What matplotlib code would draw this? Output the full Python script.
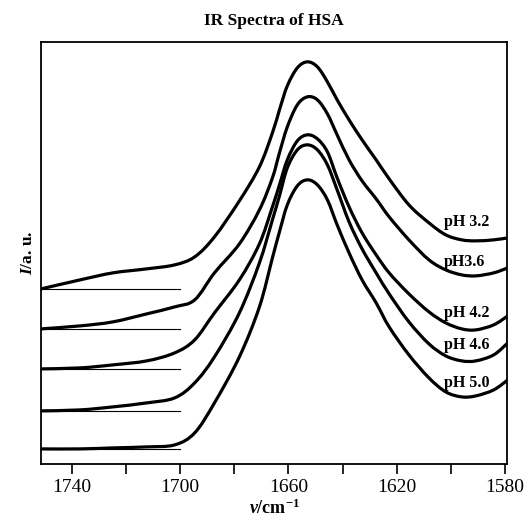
import numpy as np
import matplotlib.pyplot as plt
from matplotlib.path import Path
from matplotlib.patches import PathPatch

plt.rcParams['font.family'] = 'Liberation Serif'
plt.rcParams['mathtext.fontset'] = 'custom'
plt.rcParams['mathtext.rm'] = 'Liberation Serif:bold'
plt.rcParams['mathtext.it'] = 'Liberation Serif:italic:bold'
plt.rcParams['mathtext.bf'] = 'Liberation Serif:bold'

# ---- Data (wavenumber in cm^-1, intensity in a.u. incl. vertical offset) ----
wavenumber = [1751.3, 1736.9, 1724.8, 1712.3, 1702.0, 1694.6, 1687.3, 1678.1,
              1670.7, 1665.9, 1663.3, 1660.4, 1656.7, 1653.0, 1649.3, 1645.6,
              1642.0, 1637.6, 1632.8, 1627.6, 1622.8, 1615.5, 1608.1, 1601.9,
              1596.0, 1590.8, 1584.2, 1579.0]

ph32 = [1.75, 1.84, 1.91, 1.95, 1.99, 2.07, 2.27, 2.63, 2.97, 3.31, 3.54, 3.78,
        3.96, 4.02, 3.97, 3.82, 3.64, 3.44, 3.24, 3.04, 2.85, 2.59, 2.41, 2.29,
        2.24, 2.23, 2.24, 2.26]
ph36 = [1.35, 1.38, 1.42, 1.50, 1.57, 1.64, 1.91, 2.20, 2.54, 2.86, 3.11, 3.37,
        3.59, 3.67, 3.64, 3.50, 3.29, 3.04, 2.83, 2.65, 2.47, 2.24, 2.04, 1.94,
        1.89, 1.88, 1.91, 1.96]
ph42 = [0.95, 0.96, 0.99, 1.03, 1.11, 1.24, 1.51, 1.84, 2.20, 2.57, 2.79, 3.04,
        3.23, 3.29, 3.25, 3.12, 2.86, 2.57, 2.31, 2.09, 1.91, 1.70, 1.52, 1.41,
        1.35, 1.34, 1.39, 1.48]
ph46 = [0.53, 0.54, 0.57, 0.61, 0.66, 0.81, 1.07, 1.51, 2.01, 2.44, 2.68, 2.96,
        3.14, 3.19, 3.14, 2.99, 2.74, 2.42, 2.15, 1.91, 1.70, 1.42, 1.20, 1.08,
        1.03, 1.03, 1.09, 1.21]
ph50 = [0.15, 0.15, 0.16, 0.17, 0.19, 0.31, 0.61, 1.07, 1.57, 2.06, 2.32, 2.59,
        2.78, 2.84, 2.79, 2.64, 2.39, 2.11, 1.84, 1.61, 1.37, 1.09, 0.86, 0.72,
        0.67, 0.68, 0.74, 0.84]

spectra = [ph32, ph36, ph42, ph46, ph50]
baselines = [1.75, 1.35, 0.95, 0.53, 0.15]
labels = ['pH 3.2', 'pH3.6', 'pH 4.2', 'pH 4.6', 'pH 5.0']
label_y = [2.42, 2.02, 1.51, 1.19, 0.81]

xlim = (1751.3, 1579.3)


def smooth_path(x, y):
    # Catmull-Rom through the points, written as cubic Bezier segments
    p = np.column_stack([x, y]).astype(float)
    verts = [p[0]]
    codes = [Path.MOVETO]
    for i in range(len(p) - 1):
        p0 = p[i - 1] if i > 0 else p[i]
        p3 = p[i + 2] if i + 2 < len(p) else p[i + 1]
        c1 = p[i] + (p[i + 1] - p0) / 6.0
        c2 = p[i + 1] - (p3 - p[i]) / 6.0
        verts += [c1, c2, p[i + 1]]
        codes += [Path.CURVE4] * 3
    return Path(verts, codes)


# ---- Plotting ----
fig = plt.figure(figsize=(5.27, 5.23), dpi=100)
ax = fig.add_axes([0.078, 0.113, 0.884, 0.807])

for y in spectra:
    ax.add_patch(PathPatch(smooth_path(wavenumber, y), facecolor='none',
                           edgecolor='black', lw=2.3, joinstyle='round',
                           capstyle='round'))

# flat reference lines under the left wing
for b in baselines:
    ax.plot([xlim[0], 1700], [b, b], color='black', lw=0.8)

for lab, ly in zip(labels, label_y):
    ax.text(1602.5, ly, lab, fontsize=11.5, fontweight='bold', va='center',
            ha='left')

ax.set_xlim(xlim)
ax.set_ylim(0, 4.22)
ax.set_xticks([1740, 1700, 1660, 1620, 1580])
ax.set_xticks([1720, 1680, 1640, 1600], minor=True)
ax.set_yticks([])
ax.tick_params(axis='x', which='both', direction='out', length=7, width=1.2,
               labelsize=14, pad=4)
for s in ax.spines.values():
    s.set_linewidth(1.3)

ax.set_xlabel(r'$\nu$/cm$^{\mathbf{-1}}$', fontsize=13, fontweight='bold',
              labelpad=2)
ax.set_ylabel(r'$I$/a. u.', fontsize=12.5, fontweight='bold', labelpad=4)
ax.set_title('IR Spectra of HSA', fontsize=12.5, fontweight='bold', pad=12)

plt.savefig('out.png', dpi=100)
